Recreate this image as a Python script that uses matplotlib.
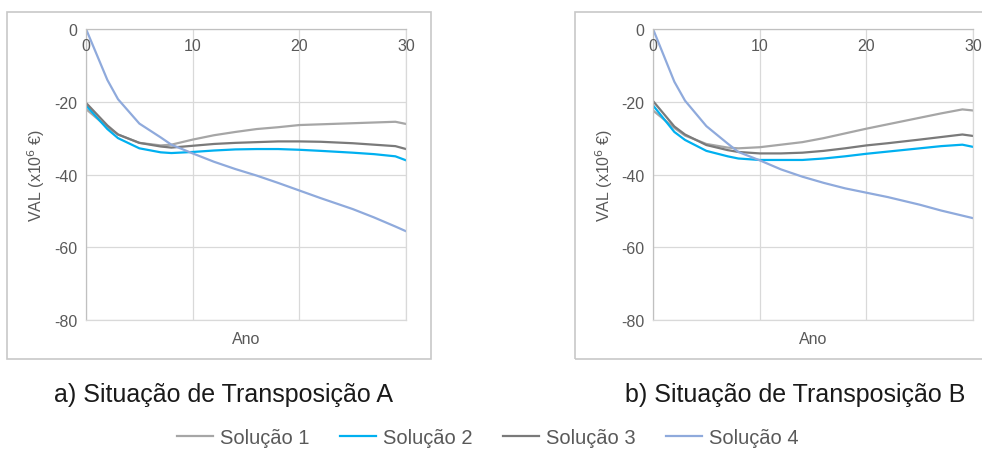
import matplotlib
matplotlib.use("Agg")
import matplotlib.pyplot as plt
from matplotlib.patches import Rectangle
from matplotlib.lines import Line2D

plt.rcParams['font.family'] = ['Liberation Sans', 'DejaVu Sans']
plt.rcParams['axes.unicode_minus'] = False

anos = [0, 2, 3, 5, 7, 8, 10, 12, 14, 16, 18, 20, 22, 25, 27, 29, 30]

# Situação A (x10^6 €)
a_sol1 = [-22, -27, -29, -31.3, -32, -31.8, -30.4, -29.2, -28.3, -27.5, -27.0, -26.4, -26.2, -25.9, -25.7, -25.5, -26.1]
a_sol2 = [-21, -27.5, -30, -32.8, -33.9, -34.1, -33.8, -33.4, -33.1, -33.0, -33.0, -33.2, -33.5, -34.0, -34.4, -35.0, -36.1]
a_sol3 = [-20.3, -26.5, -29, -31.3, -32.3, -32.6, -32.1, -31.6, -31.3, -31.1, -30.9, -30.9, -31.0, -31.4, -31.8, -32.2, -33.0]
a_sol4 = [0, -14, -19.3, -26, -29.8, -31.8, -34.2, -36.5, -38.5, -40.3, -42.3, -44.4, -46.5, -49.5, -51.8, -54.3, -55.6]

# Situação B (x10^6 €)
b_sol1 = [-22.4, -27.2, -29.3, -31.6, -32.6, -32.8, -32.5, -31.8, -31.1, -30.0, -28.7, -27.4, -26.2, -24.4, -23.2, -22.1, -22.4]
b_sol2 = [-21, -28.3, -30.5, -33.5, -35.0, -35.6, -36.0, -36.0, -36.0, -35.6, -35.0, -34.3, -33.7, -32.8, -32.2, -31.8, -32.4]
b_sol3 = [-19.8, -26.8, -29, -31.9, -33.3, -33.8, -34.2, -34.2, -34.0, -33.5, -32.8, -32.0, -31.4, -30.4, -29.7, -29.0, -29.4]
b_sol4 = [0, -14.5, -19.7, -26.7, -31.5, -33.8, -36.1, -38.6, -40.6, -42.3, -43.8, -45.0, -46.2, -48.3, -49.9, -51.3, -52.0]

series = ["Solução 1", "Solução 2", "Solução 3", "Solução 4"]
colors = ["#a6a6a6", "#00b0f0", "#7a7a7a", "#8faadc"]
captions = ["a) Situação de Transposição A", "b) Situação de Transposição B"]

xticks = [0, 10, 20, 30]
yticks = [0, -20, -40, -60, -80]
txt = "#595959"

fig = plt.figure(figsize=(9.82, 4.52), dpi=100)

# chart frames
fig.patches.append(Rectangle((0.0071, 0.2035), 0.4318, 0.7677, transform=fig.transFigure,
                             fill=False, edgecolor="#c8c8c8", linewidth=1.2))
fig.patches.append(Rectangle((0.5855, 0.2035), 0.43, 0.7677, transform=fig.transFigure,
                             fill=False, edgecolor="#c8c8c8", linewidth=1.2))

panels = [
    (0.0876, 0.228, [a_sol1, a_sol2, a_sol3, a_sol4]),
    (0.6650, 0.810, [b_sol1, b_sol2, b_sol3, b_sol4]),
]

for i, (left, cap_x, data) in enumerate(panels):
    ax = fig.add_axes([left, 0.2898, 0.3259, 0.6438])
    for vals, c, name in zip(data, colors, series):
        ax.plot(anos, vals, color=c, linewidth=1.6, label=name)
    ax.set_xlim(0, 30)
    ax.set_ylim(-80, 0)
    ax.set_xticks(xticks)
    ax.set_yticks(yticks)
    ax.set_xticklabels([])
    ax.tick_params(length=0, labelsize=11.5, labelcolor=txt, pad=6)
    ax.grid(True, color="#d9d9d9", linewidth=0.9)
    ax.set_axisbelow(True)
    for s in ax.spines.values():
        s.set_color("#d9d9d9")
        s.set_linewidth(0.9)
    ax.spines["left"].set_color("#c0c0c0")
    ax.spines["top"].set_color("#c0c0c0")
    # x labels sit just under the horizontal axis (y = 0)
    for t in xticks:
        ax.annotate(str(t), (t, 0), xytext=(0, -6.5), textcoords="offset points",
                    ha="center", va="top", fontsize=11.5, color=txt)
    ax.set_xlabel("Ano", fontsize=11.5, color=txt, labelpad=2)
    ax.set_ylabel("VAL (x10$^6$ €)", fontsize=11.5, color=txt, labelpad=5)
    fig.text(cap_x, 0.126, captions[i], ha="center", va="center",
             fontsize=18, color="#1a1a1a")

handles = [Line2D([], [], color=c, linewidth=1.6) for c in colors]
fig.legend(handles, series, loc="center", bbox_to_anchor=(0.497, 0.03), ncol=4,
           frameon=False, fontsize=14.5, handlelength=1.8, handletextpad=0.35,
           columnspacing=1.5, labelcolor=txt)

fig.savefig("out.png", dpi=100)
